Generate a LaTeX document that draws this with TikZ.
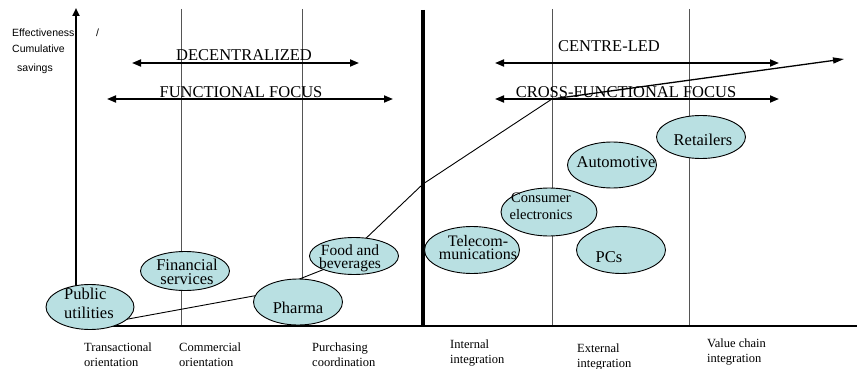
\documentclass[tikz,border=0pt]{standalone}
\usepackage{fontspec}
\setmainfont{Liberation Serif}
\setsansfont{Liberation Sans}
\usetikzlibrary{arrows.meta,shapes.geometric}
\definecolor{bubblecol}{HTML}{B9E0E2}
\definecolor{gridcol}{HTML}{555555}
\begin{document}
\begin{tikzpicture}[x=1pt,y=-1pt,
  gridline/.style={draw=gridcol, line width=0.9pt},
  axis/.style={line width=2pt},
  span/.style={line width=1.8pt, {Triangle[length=9pt,width=7pt]}-{Triangle[length=9pt,width=7pt]}},
  band/.style={font=\fontsize{16.5}{18}\selectfont, anchor=base, inner sep=0pt},
  bubble/.style={ellipse, draw, line width=0.9pt, fill=bubblecol, inner sep=0pt},
  blabel/.style={font=\fontsize{16.5}{13.5}\selectfont, align=center, inner sep=0pt, anchor=base},
  stage/.style={font=\fontsize{12.5}{14.5}\selectfont, anchor=base west, inner sep=0pt, align=left},
  ylab/.style={font=\sffamily\fontsize{10.5}{12}\selectfont, anchor=base west, inner sep=0pt},
  ]
\useasboundingbox (0,0) rectangle (857,369);

% stage boundaries
\foreach \xx/\nm in {181/g1, 302/g2, 552/g3, 689/g4} {
  \coordinate (\nm top) at (\xx,9);
  \coordinate (\nm bot) at (\xx,326);
  \draw[gridline] (\nm top) -- (\nm bot);
}
% divider between decentralized and centre-led
\coordinate (divtop) at (423,10);
\coordinate (divbot) at (423,326);
\draw[line width=3.5pt] (divtop) -- (divbot);

% axes
\coordinate (origin) at (76,326);
\coordinate (ytop) at (76,8);
\coordinate (xend) at (857,326);
\draw[axis, -{Triangle[length=8pt,width=7pt]}] (origin) -- (ytop);
\draw[axis] (origin) -- (xend);

% axis title
\node[ylab] (ya) at (12,37) {Effectiveness};
\node[ylab] (yb) at (96,37) {/};
\node[ylab] (yc) at (12,53) {Cumulative};
\node[ylab] (yd) at (17,71) {savings};

% organisational spans
\coordinate (dl) at (132,63);  \coordinate (dr) at (359,63);
\coordinate (fl) at (107,99);  \coordinate (fr) at (393,99);
\coordinate (cl) at (495,63);  \coordinate (cr) at (779,63);
\coordinate (xl) at (495,99);  \coordinate (xr) at (779,99);
\draw[span] (dl) -- (dr);
\draw[span] (fl) -- (fr);
\draw[span] (cl) -- (cr);
\draw[span] (xl) -- (xr);
\node[band] (dec) at (244,60) {DECENTRALIZED};
\node[band] (fun) at (241,97) {FUNCTIONAL FOCUS};
\node[band] (cen) at (609,52) {CENTRE-LED};
\node[band] (crs) at (626,97) {CROSS-FUNCTIONAL FOCUS};

% savings curve
\coordinate (k0) at (90,326);
\coordinate (k1) at (259,295);
\coordinate (k2) at (340,263);
\coordinate (k3) at (423,184);
\coordinate (k4) at (552,99);
\coordinate (k5) at (844,59);
\draw[line width=0.9pt] (k0) -- (k1) -- (k2) -- (k3) -- (k4);
\draw[line width=1.3pt, -{Triangle[length=11pt,width=6pt]}] (k4) -- (k5);

% industries
\node[bubble, minimum width=88pt, minimum height=45pt] (pub) at (90,307) {};
\node[bubble, minimum width=89pt, minimum height=39pt] (fin) at (185,271) {};
\node[bubble, minimum width=89pt, minimum height=46pt] (pha) at (298,302) {};
\node[bubble, minimum width=89pt, minimum height=37pt] (foo) at (354,256) {};
\node[bubble, minimum width=95pt, minimum height=47pt] (tel) at (472,250) {};
\node[bubble, minimum width=96pt, minimum height=48pt] (con) at (549,212) {};
\node[bubble, minimum width=89pt, minimum height=46pt] (aut) at (612,165) {};
\node[bubble, minimum width=89pt, minimum height=47pt] (pcs) at (621,250) {};
\node[bubble, minimum width=89pt, minimum height=43pt] (ret) at (701,137) {};

% labels: for two-line labels the base anchor sits on the last line
\node[blabel, font=\fontsize{16.5}{19}\selectfont, align=left, anchor=base west] (tpub) at (64,318) {Public\\utilities};
\node[blabel] (tfin) at (187,284) {Financial\\services};
\node[blabel] (tpha) at (298,313) {Pharma};
\node[blabel, font=\fontsize{15.5}{13}\selectfont] (tfoo) at (350,268) {Food and\\beverages};
\node[blabel, font=\fontsize{16}{12.5}\selectfont] (ttel) at (478,259) {Telecom-\\munications};
\node[blabel, font=\fontsize{14.5}{17}\selectfont] (tcon) at (541,219) {Consumer\\electronics};
\node[blabel] (taut) at (616,167) {Automotive};
\node[blabel] (tpcs) at (609,262) {PCs};
\node[blabel] (tret) at (703,145) {Retailers};

% stages of purchasing maturity
\node[stage] (s1) at (84,366) {Transactional\\orientation};
\node[stage] (s2) at (179,366) {Commercial\\orientation};
\node[stage] (s3) at (312,366) {Purchasing\\coordination};
\node[stage] (s4) at (450,363) {Internal\\integration};
\node[stage] (s5) at (577,367) {External\\integration};
\node[stage] (s6) at (707,362) {Value chain\\integration};
\end{tikzpicture}
\end{document}
